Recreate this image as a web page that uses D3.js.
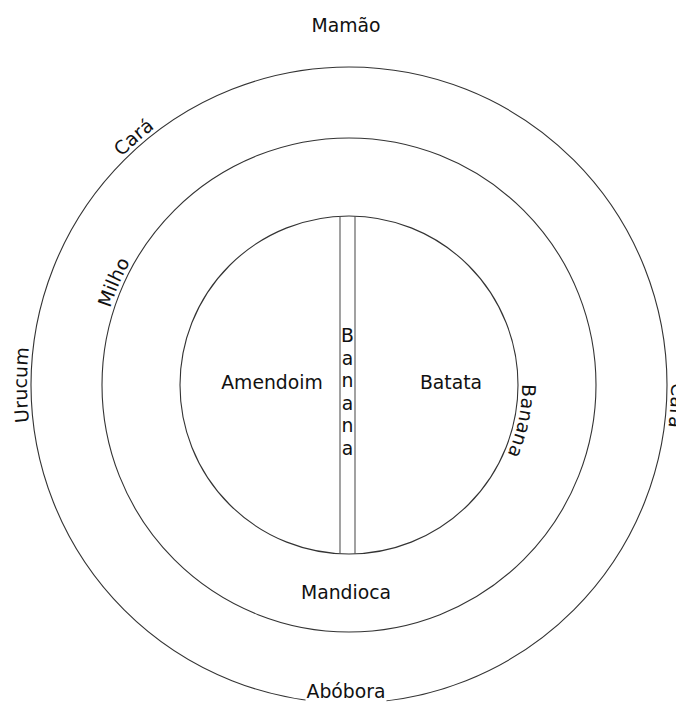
<!DOCTYPE html>
<html>
<head>
<meta charset="utf-8">
<script src="https://cdn.jsdelivr.net/npm/d3@7"></script>
<style>
  html, body { margin: 0; padding: 0; background: #fff; }
  svg { display: block; }
  text { font-family: "DejaVu Sans", sans-serif; font-size: 18.8px; fill: #111; }
</style>
</head>
<body>
<script>
// ---- data ----
const ringNames = ["inner", "middle", "outer"];
const ringRadii = [1.69, 2.47, 3.18];           // ring extents (m)
const bandEdges = [-0.09, 0.06];                  // central banana strip (m)
const innerLabels = ["Amendoim", "Batata"];
const innerLabelX = [-0.77, 1.02];
const bandLabel = "Banana";
const arcLabels = ["Cará", "Urucum", "Cará", "Milho", "Banana"];
const arcLabelRing = [2, 2, 2, 1, 0];
const arcLabelAngle = [319, 270, 93.6, 293.6, 101.7];
const flatLabels = ["Mamão", "Mandioca", "Abóbora"];
const flatLabelY = [-3.59, 2.08, 3.07];

// ---- layout ----
const W = 676, H = 702;
const cx = 349, cy = 385;
const r = d3.scaleLinear().domain([0, 3.18]).range([0, 318]);

const svg = d3.select("body").append("svg")
  .attr("width", W).attr("height", H);

const circlePath = rad => {
  const R = r(rad);
  return `M${cx},${cy - R} A${R},${R} 0 1 1 ${cx},${cy + R} A${R},${R} 0 1 1 ${cx},${cy - R}`;
};

const defs = svg.append("defs");
ringRadii.forEach((rad, i) => {
  defs.append("path").attr("id", "ring-" + ringNames[i]).attr("d", circlePath(rad));
});

// rings
svg.selectAll("circle.ring").data(ringRadii).join("circle")
  .attr("class", "ring")
  .attr("cx", cx).attr("cy", cy)
  .attr("r", d => r(d))
  .attr("fill", "none").attr("stroke", "#333").attr("stroke-width", 1.1);

// band
const R0 = r(ringRadii[0]);
svg.selectAll("line.band").data(bandEdges).join("line")
  .attr("class", "band")
  .attr("x1", d => cx + r(d)).attr("x2", d => cx + r(d))
  .attr("y1", d => cy - Math.sqrt(R0 * R0 - r(d) * r(d)))
  .attr("y2", d => cy + Math.sqrt(R0 * R0 - r(d) * r(d)))
  .attr("stroke", "#555").attr("stroke-width", 1.1);

// band label (vertical stacked letters)
const bandX = cx + r((bandEdges[0] + bandEdges[1]) / 2);
const letters = bandLabel.split("");
const bt = svg.append("text").attr("text-anchor", "middle")
  .attr("x", bandX).attr("y", cy - 43);
bt.selectAll("tspan").data(letters).join("tspan")
  .attr("x", bandX)
  .attr("dy", (d, i) => i === 0 ? 0 : "1.2em")
  .text(d => d);

// inner labels
svg.selectAll("text.inner").data(innerLabels).join("text")
  .attr("class", "inner")
  .attr("text-anchor", "middle")
  .attr("x", (d, i) => cx + r(innerLabelX[i]))
  .attr("y", cy + 4)
  .text(d => d);

// arc labels
svg.selectAll("text.arc").data(arcLabels).join("text")
  .attr("class", "arc")
  .attr("dy", -4)
  .append("textPath")
  .attr("href", (d, i) => "#ring-" + ringNames[arcLabelRing[i]])
  .attr("startOffset", (d, i) => (arcLabelAngle[i] / 360 * 100) + "%")
  .attr("text-anchor", "middle")
  .text(d => d);

// flat labels
const flat = svg.selectAll("g.flat").data(flatLabels).join("g").attr("class", "flat");
flat.append("rect").attr("fill", "#fff");
flat.append("text")
  .attr("text-anchor", "middle")
  .attr("x", cx - 3)
  .attr("y", (d, i) => cy + r(flatLabelY[i]) + 6)
  .text(d => d);
flat.each(function(d, i) {
  const g = d3.select(this);
  if (d !== "Abóbora") { g.select("rect").remove(); return; }
  const bb = g.select("text").node().getBBox();
  g.select("rect").attr("x", bb.x - 1).attr("y", bb.y).attr("width", bb.width + 2).attr("height", bb.height);
});
</script>
</body>
</html>
